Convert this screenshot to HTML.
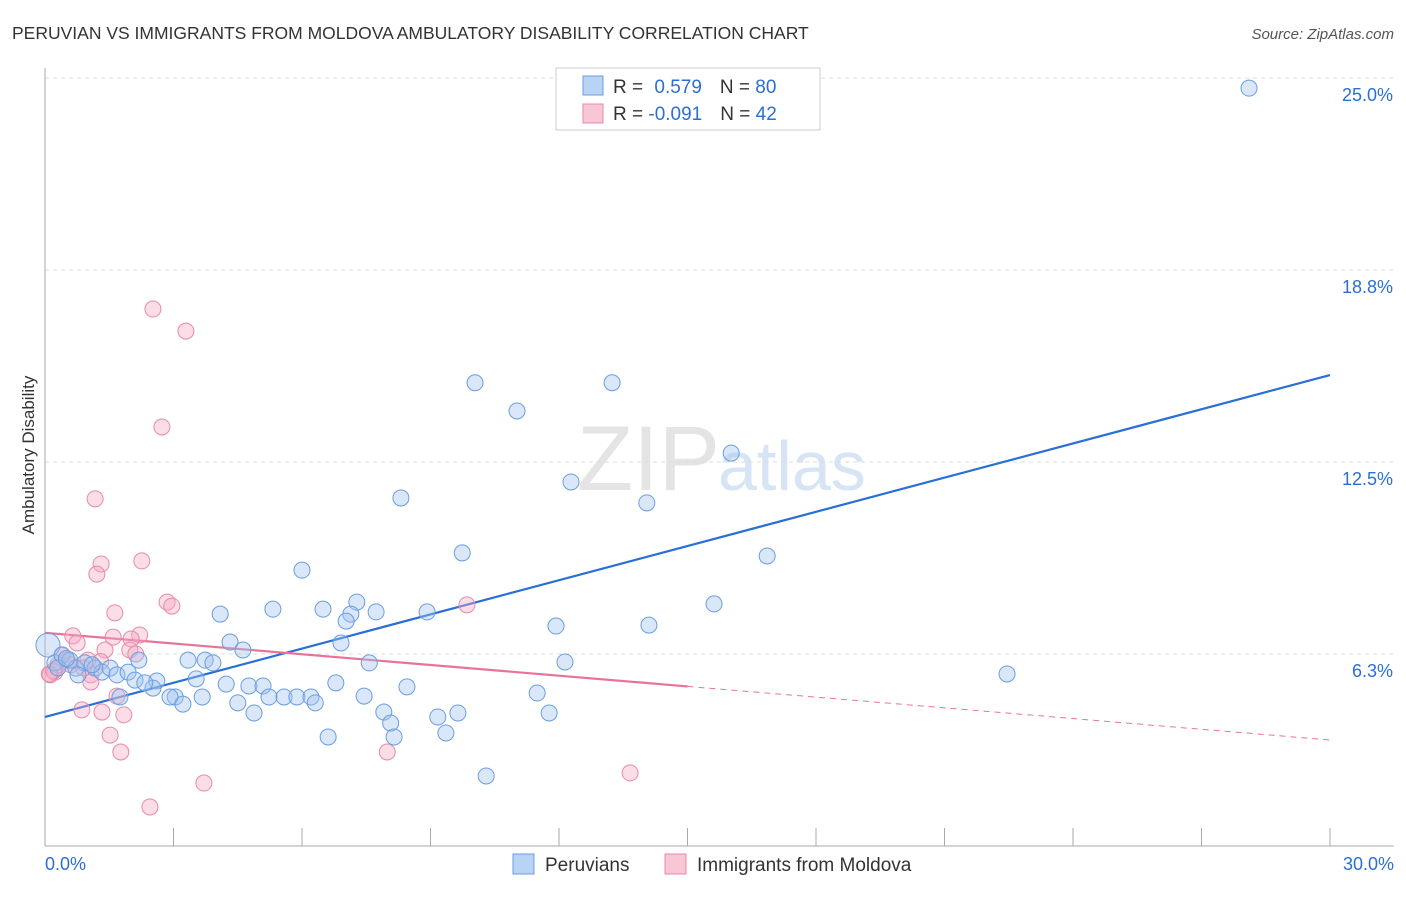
<!DOCTYPE html>
<html><head><meta charset="utf-8"><style>
body{margin:0;background:#fff;font-family:"Liberation Sans",sans-serif;}
svg text{font-family:"Liberation Sans",sans-serif;}
</style></head><body>
<svg id="chart" width="1406" height="892" xmlns="http://www.w3.org/2000/svg">
<text x="12" y="39" font-size="17.5" fill="#333">PERUVIAN VS IMMIGRANTS FROM MOLDOVA AMBULATORY DISABILITY CORRELATION CHART</text>
<text x="1394" y="39" font-size="15" fill="#555" text-anchor="end" font-style="italic">Source: ZipAtlas.com</text>
<text x="720" y="490" font-size="92" fill="#e4e4e4" text-anchor="end" font-family="Liberation Serif">ZIP</text>
<text x="718" y="490" font-size="70" fill="#d6e4f5">atlas</text>
<text x="34" y="455" font-size="17" fill="#333" text-anchor="middle" transform="rotate(-90 34 455)">Ambulatory Disability</text>
<g id="grid"></g><g id="axes"></g><g id="lines"></g><g id="pts"></g>
<g>
<rect x="556" y="68" width="264" height="62" fill="#fff" stroke="#ccc"/>
<rect x="583" y="76" width="20" height="19" fill="#b9d3f5" stroke="#6a9ee0"/>
<rect x="583" y="104" width="20" height="19" fill="#f8c6d5" stroke="#e78aa8"/>
<text x="613" y="93" font-size="19" fill="#333">R = <tspan fill="#2a6fd6" dx="6">0.579</tspan><tspan dx="18">N = </tspan><tspan fill="#2a6fd6">80</tspan></text>
<text x="613" y="120" font-size="19" fill="#333">R = <tspan fill="#2a6fd6">-0.091</tspan><tspan dx="18">N = </tspan><tspan fill="#2a6fd6">42</tspan></text>
</g>
<g>
<rect x="513" y="854" width="21" height="20" fill="#b9d3f5" stroke="#6a9ee0"/>
<text x="545" y="871" font-size="19" fill="#333">Peruvians</text>
<rect x="665" y="854" width="21" height="20" fill="#f8c6d5" stroke="#e78aa8"/>
<text x="697" y="871" font-size="19" fill="#333">Immigrants from Moldova</text>
</g>
</svg>
<script>
const yTicks=[6.25,12.5,18.75,25];
const yTickLabels=["6.3%","12.5%","18.8%","25.0%"];
const xTickLabels=["0.0%","30.0%"];
const blueX=[28.11,10.04,13.24,11.02,16.02,12.28,8.31,14.05,9.74,16.86,6.0,15.62,7.28,6.49,5.32,7.14,7.73,8.92,7.03,4.09,11.93,14.1,4.32,6.91,4.62,22.46,12.14,7.57,2.19,3.34,3.74,3.92,3.53,4.23,4.76,5.09,6.79,8.45,2.61,2.52,3.04,2.92,3.67,5.23,5.58,5.88,6.21,7.45,11.49,3.22,4.5,6.31,4.88,7.91,9.64,9.17,11.77,8.07,9.36,6.61,8.15,10.3,0.07,0.23,0.4,0.58,0.72,0.93,1.17,1.33,1.52,1.68,1.94,2.1,2.33,1.75,0.77,0.3,0.5,1.1];
const blueY=[24.67,15.08,15.08,14.16,12.79,11.85,11.33,11.17,9.54,9.44,8.98,7.88,7.94,7.71,7.71,7.55,7.62,7.62,7.32,7.55,7.16,7.19,6.64,6.61,6.38,5.6,5.99,5.96,6.05,6.05,6.05,5.96,5.44,5.27,5.21,5.21,5.31,5.18,5.37,5.14,4.85,4.85,4.85,4.85,4.85,4.85,4.85,4.88,4.98,4.62,4.66,4.66,4.33,4.36,4.33,4.2,4.33,4.0,3.68,3.55,3.55,2.28,6.54,5.96,6.22,6.05,5.79,5.96,5.79,5.66,5.79,5.57,5.66,5.4,5.31,4.85,5.57,5.8,6.1,5.9];
const pinkX=[2.52,3.29,2.73,1.17,1.31,1.21,2.26,2.85,2.96,9.85,1.63,2.21,1.59,2.01,0.65,0.75,1.4,1.98,2.12,1.0,0.51,1.07,1.07,0.23,0.12,0.3,1.68,0.86,1.33,1.84,1.52,1.77,7.99,3.71,13.66,2.45,0.4,0.6,0.2,0.9,1.3,0.1];
const pinkY=[17.48,16.76,13.64,11.3,9.18,8.85,9.28,7.94,7.81,7.85,7.59,6.87,6.8,6.74,6.84,6.61,6.38,6.38,6.25,6.05,6.05,5.57,5.34,5.66,5.57,5.89,4.88,4.43,4.36,4.27,3.61,3.06,3.06,2.05,2.38,1.27,6.2,5.9,5.7,5.8,6.0,5.6];
const blueFit=[4.2,15.33];
const pinkFit=[6.94,3.45];
const X=v=>45+v/30*1285, Y=v=>846-v/6.25*192;
const NS="http://www.w3.org/2000/svg";
function mk(p,t,a){const e=document.createElementNS(NS,t);for(const k in a)e.setAttribute(k,a[k]);document.getElementById(p).appendChild(e);return e;}
yTicks.forEach((t,i)=>{
 const l=mk('grid','line',{x1:45,x2:1394,y1:Y(t),y2:Y(t),stroke:'#ddd','stroke-dasharray':'4 4'});
 
 
 const tx=mk('grid','text',{x:1393,y:Y(t)+23,'font-size':18,fill:'#2a6fd6','text-anchor':'end'});
 tx.textContent=yTickLabels[i];
 
 
});
const ax=mk('axes','line',{x1:45,x2:1394,y1:846,y2:846,stroke:'#aaa'});


const ay=mk('axes','line',{x1:45,x2:45,y1:68,y2:846,stroke:'#aaa'});


for(let i=1;i<=10;i++){const t=mk('axes','line',{x1:X(i*3),x2:X(i*3),y1:828,y2:846,stroke:'#aaa'});
 
 }
[[0,'start',45],[30,'end',1394]].forEach((d,i)=>{const t=mk('axes','text',{x:d[2],y:870,'font-size':18,fill:'#2a6fd6','text-anchor':d[1]});t.textContent=xTickLabels[i];
 
 });
const bl=mk('lines','line',{x1:X(0),y1:Y(blueFit[0]),x2:X(30),y2:Y(blueFit[1]),stroke:'#2a6fd6','stroke-width':2.2});


const pm=pinkFit[0]+(pinkFit[1]-pinkFit[0])*0.5;
const pl=mk('lines','line',{x1:X(0),y1:Y(pinkFit[0]),x2:X(15),y2:Y(pm),stroke:'#e8739a','stroke-width':2.2});


const pd=mk('lines','line',{x1:X(15),y1:Y(pm),x2:X(30),y2:Y(pinkFit[1]),stroke:'#e8739a','stroke-width':1,'stroke-dasharray':'6 5'});


pinkX.forEach((x,i)=>{const c=mk('pts','circle',{cx:X(x),cy:Y(pinkY[i]),r:8,fill:'rgba(245,170,195,0.4)',stroke:'#e78aa8','stroke-width':1});
 
 });
blueX.forEach((x,i)=>{const c=mk('pts','circle',{cx:X(x),cy:Y(blueY[i]),r:i==62?12:8,fill:'rgba(160,195,240,0.4)',stroke:'#6a9ee0','stroke-width':1});
 
 });
</script>
</body></html>
